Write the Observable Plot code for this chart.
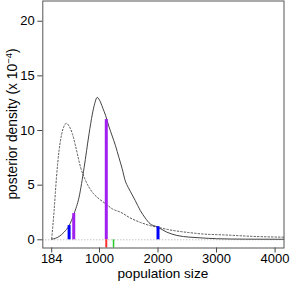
<!DOCTYPE html>
<html>
<head>
<meta charset="utf-8">
<script src="https://cdn.jsdelivr.net/npm/d3@7"></script>
<script src="https://cdn.jsdelivr.net/npm/@observablehq/plot@0.6"></script>
<style>
  html, body { margin: 0; padding: 0; background: #fff; }
  svg { display: block; }
</style>
</head>
<body>
<script>
// posterior density (solid)
const postX = [184, 310, 395, 481, 566, 651, 737, 822, 878, 920, 960, 1017, 1060, 1103, 1159, 1217, 1274, 1331, 1388, 1440, 1490, 1525, 1610, 1695, 1781, 1866, 1980, 2150, 2321, 2547, 2718, 3000, 3500, 4150];
const postY = [0.05, 0.3, 0.7, 1.3, 2.4, 3.9, 6.6, 9.7, 11.5, 12.5, 13.03, 12.6, 12.0, 11.4, 10.4, 9.5, 8.6, 7.55, 6.5, 5.4, 4.8, 4.45, 3.6, 2.7, 2.0, 1.46, 1.2, 0.7, 0.4, 0.24, 0.18, 0.1, 0.06, 0.05];
// prior density (dotted)
const priorX = [184, 225, 265, 310, 355, 395, 430, 481, 537, 594, 679, 764, 878, 992, 1105, 1219, 1370, 1525, 1695, 1866, 2036, 2207, 2377, 2600, 2718, 3115, 3683, 4150];
const priorY = [0.1, 2.7, 5.7, 8.2, 9.7, 10.4, 10.66, 10.4, 9.7, 8.5, 6.6, 5.4, 4.35, 3.75, 3.3, 2.83, 2.5, 2.0, 1.6, 1.3, 1.1, 0.9, 0.76, 0.62, 0.55, 0.45, 0.3, 0.24];
// interval markers
const blueX = [481, 2000];
const blueY = [1.3, 1.2];
const purpleX = [560, 1116];
const purpleY = [2.4, 11.0];
const redX = [1116];
const greenX = [1240];
// ticks
const xTicks = [184, 1000, 2000, 3000, 4000];
const yTicks = [0, 5, 10, 15, 20];

const xDomain = [31.4, 4152.6];
const yDomain = [-0.75, 21.85];

const post = postX.map((x, i) => ({x, y: postY[i]}));
const prior = priorX.map((x, i) => ({x, y: priorY[i]}));
const blue = blueX.map((x, i) => ({x, y: blueY[i]}));
const purple = purpleX.map((x, i) => ({x, y: purpleY[i]}));

const W = 291, H = 291;
const mL = 42.3, mR = 7.5, mT = 0.5, mB = 43.5;

const svg = Plot.plot({
  width: W, height: H,
  marginLeft: mL, marginRight: mR, marginTop: mT, marginBottom: mB,
  style: {fontFamily: "'Liberation Sans', Arial, sans-serif", fontSize: "13px", color: "#000", background: "#fff"},
  x: {domain: xDomain, label: null},
  y: {domain: yDomain, label: null},
  marks: [
    Plot.ruleY([0], {stroke: "#aaa", strokeDasharray: "1,2", strokeWidth: 1}),
    Plot.line(prior, {x: "x", y: "y", curve: "monotone-x", stroke: "#555", strokeWidth: 1, strokeDasharray: "1.5,2"}),
    Plot.line(post, {x: "x", y: "y", curve: "monotone-x", stroke: "#444", strokeWidth: 1}),
    Plot.ruleX(blue, {x: "x", y1: 0, y2: "y", stroke: "#0000ff", strokeWidth: 3}),
    Plot.ruleX(purple, {x: "x", y1: 0, y2: "y", stroke: "#a020f0", strokeWidth: 3}),
    Plot.ruleX(redX, {x: d => d, y1: 0, y2: yDomain[0], stroke: "#ff3030", strokeWidth: 2}),
    Plot.ruleX(greenX, {x: d => d, y1: 0, y2: yDomain[0], stroke: "#22cc22", strokeWidth: 1.5}),
    Plot.axisX({ticks: xTicks, tickSize: 5, tickPadding: 1, tickFormat: d => String(d), label: null, stroke: "#444", fontSize: 13}),
    Plot.axisY({ticks: yTicks, tickSize: 5, tickPadding: 3, tickFormat: d => String(d), label: null, stroke: "#444", fontSize: 13}),
    Plot.frame({stroke: "#555", strokeWidth: 1})
  ]
});

document.body.appendChild(svg);

const s = d3.select(svg);
const cx = (mL + (W - mR)) / 2;
const cy = (mT + (H - mB)) / 2;
s.append("text")
  .attr("x", cx).attr("y", H - 13.5)
  .attr("text-anchor", "middle")
  .attr("font-size", 13.6)
  .attr("fill", "#000")
  .text("population size");

const yt = s.append("text")
  .attr("transform", `translate(17,${cy}) rotate(-90)`)
  .attr("text-anchor", "middle")
  .attr("font-size", 13.8)
  .attr("fill", "#000");
yt.append("tspan").text("posterior density (x 10");
yt.append("tspan").attr("dy", -5).attr("font-size", 9.5).text("−4");
yt.append("tspan").attr("dy", 5).text(")");
</script>
</body>
</html>
